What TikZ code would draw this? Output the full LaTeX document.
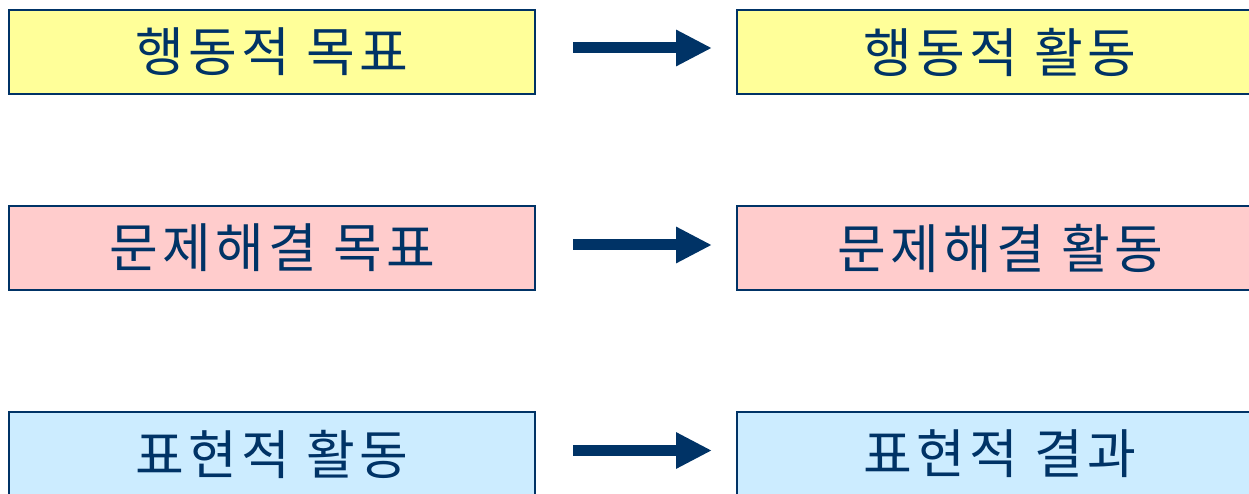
\documentclass[tikz,border=0pt]{standalone}
\usepackage{fontspec}
\setmainfont{Noto Sans CJK KR}
\newfontfamily\spacedko[LetterSpace=8]{Noto Sans CJK KR}
\usetikzlibrary{arrows.meta}
\definecolor{navy}{HTML}{003366}
\definecolor{boxyellow}{HTML}{FFFF99}
\definecolor{boxpink}{HTML}{FFCCCC}
\definecolor{boxblue}{HTML}{CCECFF}

\begin{document}
\begin{tikzpicture}[x=1pt,y=-1pt]
  \tikzstyle{stage}=[rectangle, draw=navy, line width=2pt, text=navy,
minimum width=526pt, minimum height=84pt, inner sep=0pt,
font=\spacedko\fontsize{53}{57}\selectfont]
  \tikzstyle{link}=[navy, line width=11pt, -{Triangle[length=36pt,width=34pt]},
shorten <=37pt, shorten >=24pt]
  \useasboundingbox (0,0) rectangle (1249,494);

  \node[stage, fill=boxyellow] (goal_1) at (272,52)  {행동적 목표};
  \node[stage, fill=boxyellow] (act_1)  at (1000,52) {행동적 활동};
  \node[stage, fill=boxpink]   (goal_2) at (272,248)  {문제해결 목표};
  \node[stage, fill=boxpink]   (act_2)  at (1000,248) {문제해결 활동};
  \node[stage, fill=boxblue]   (goal_3) at (272,454)  {표현적 활동};
  \node[stage, fill=boxblue]   (act_3)  at (1000,454) {표현적 결과};

  \draw[link] ([yshift=4pt]goal_1.east) -- ([yshift=4pt]act_1.west);
  \draw[link] ([yshift=3pt]goal_2.east) -- ([yshift=3pt]act_2.west);
  \draw[link] ([yshift=3.5pt]goal_3.east) -- ([yshift=3.5pt]act_3.west);
\end{tikzpicture}
\end{document}
